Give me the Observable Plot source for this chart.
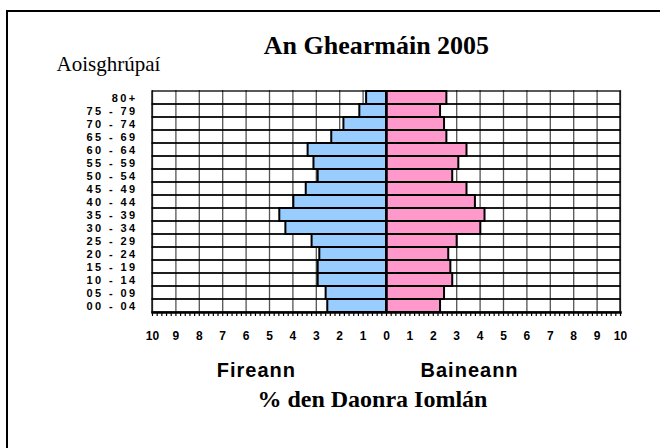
<!DOCTYPE html>
<html>
<head>
<meta charset="utf-8">
<script src="https://cdn.jsdelivr.net/npm/d3@7"></script>
<script src="https://cdn.jsdelivr.net/npm/@observablehq/plot@0.6"></script>
<style>
  html, body { margin: 0; padding: 0; background: #fff; overflow: hidden; }
  #wrap { position: relative; width: 660px; height: 448px; }
  #border { position: absolute; left: 6px; top: 10px; width: 700px; height: 500px;
            border-left: 2px solid #000; border-top: 2px solid #000; box-sizing: border-box; }
  #chart { position: absolute; left: 0; top: 0; }
</style>
</head>
<body>
<div id="wrap"><div id="border"></div><div id="chart"></div></div>
<script>
const ages = ["00 - 04","05 - 09","10 - 14","15 - 19","20 - 24","25 - 29","30 - 34","35 - 39","40 - 44","45 - 49","50 - 54","55 - 59","60 - 64","65 - 69","70 - 74","75 - 79","80+"];
const male = [2.51,2.58,2.92,2.92,2.85,3.18,4.30,4.56,3.96,3.43,2.92,3.10,3.35,2.34,1.82,1.14,0.85];
const female = [2.31,2.48,2.83,2.75,2.66,3.02,4.03,4.21,3.80,3.44,2.83,3.09,3.44,2.58,2.48,2.31,2.58];
const xTicks = d3.range(-10, 11);
const minorTicks = d3.range(-100, 101, 2).map(d => d / 10);

const title = "An Ghearmáin 2005";
const yTitle = "Aoisghrúpaí";
const maleLabel = "Fireann";
const femaleLabel = "Baineann";
const xTitle = "% den Daonra Iomlán";

const data = ages.map((age, i) => ({age, male: male[i], female: female[i]}));

const serif = "'Liberation Serif', 'Times New Roman', serif";
const sans = "'Liberation Sans', Arial, sans-serif";

const chart = Plot.plot({
  width: 660,
  height: 448,
  marginLeft: 152,
  marginRight: 40,
  marginTop: 90,
  marginBottom: 136,
  style: {fontFamily: sans, background: "transparent", overflow: "visible"},
  x: {domain: [-10, 10], axis: null},
  y: {domain: ages.slice().reverse(), padding: 0, axis: null},
  marks: [
    Plot.ruleX(xTicks, {stroke: "#555", strokeWidth: 1.3}),
    Plot.barX(ages, {y: d => d, x1: xTicks[0], x2: xTicks[xTicks.length - 1], fill: "none", stroke: "#000", strokeWidth: 1.3}),
    Plot.barX(data, {y: "age", x1: 0, x2: d => -d.male, fill: "#99ccff", stroke: "#000", strokeWidth: 2}),
    Plot.barX(data, {y: "age", x1: 0, x2: "female", fill: "#ff99cc", stroke: "#000", strokeWidth: 2}),
    Plot.ruleX([0], {stroke: "#000", strokeWidth: 2.5}),
    Plot.frame({anchor: "bottom", stroke: "#000", strokeWidth: 2.5}),
    Plot.axisX(minorTicks, {tickSize: 4, tickFormat: () => "", label: null, strokeWidth: 1.2}),
    Plot.axisX(xTicks, {tickSize: 0, tickPadding: 19, tickFormat: d => Math.abs(d), label: null, fill: "#000"}),
    Plot.axisY({tickSize: 0, tickPadding: 15, label: null, fill: "#000"}),
    Plot.text([title], {x: -0.43, frameAnchor: "top", dy: -55, fontFamily: serif, fontWeight: "bold", fontSize: 26, fill: "#000"}),
    Plot.text([yTitle], {frameAnchor: "top-left", textAnchor: "start", dx: -96, dy: -34, fontFamily: serif, fontSize: 21, fill: "#000"}),
    Plot.text([maleLabel, femaleLabel], {x: [-5.56, 3.55], frameAnchor: "bottom", dy: 64, fontFamily: sans, fontWeight: "bold", fontSize: 20, fill: "#000"}),
    Plot.text([xTitle], {x: -0.6, frameAnchor: "bottom", dy: 94, fontFamily: serif, fontWeight: "bold", fontSize: 24, fill: "#000"})
  ]
});
const svg = d3.select(chart);
svg.selectAll("text").each(function() {
  const t = this.textContent;
  const el = d3.select(this);
  if (ages.includes(t)) {
    el.style("font-size", "11px").style("font-weight", "bold").style("letter-spacing", "2.4px").style("font-family", sans);
  } else if (/^\d+$/.test(t)) {
    el.style("font-size", "12px").style("font-weight", "bold").style("font-family", sans);
  } else if (t === maleLabel || t === femaleLabel) {
    el.style("letter-spacing", "1px");
  }
});
document.getElementById("chart").appendChild(chart);
</script>
</body>
</html>
